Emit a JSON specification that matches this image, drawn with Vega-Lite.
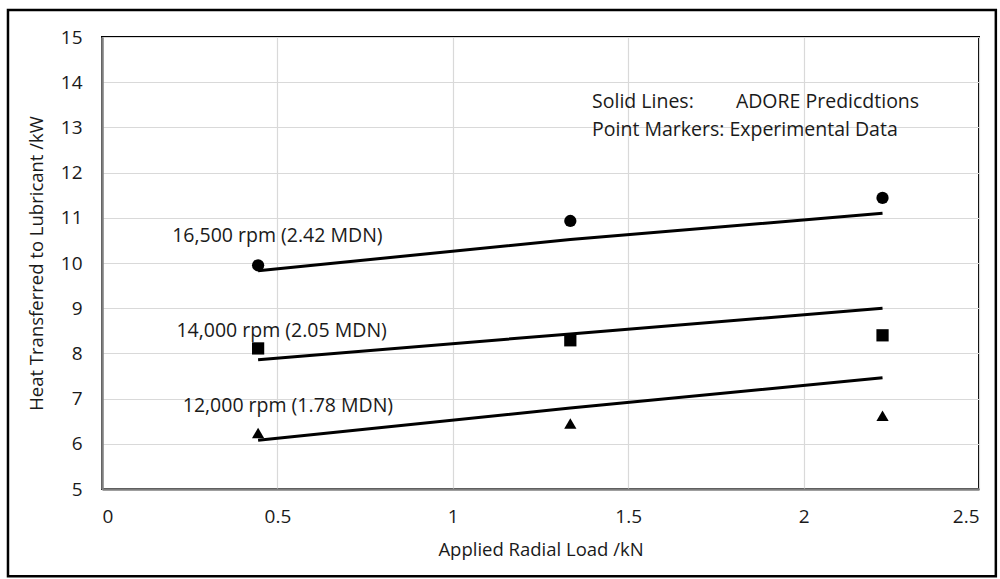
{
  "$schema": "https://vega.github.io/schema/vega-lite/v6.json",
  "width": 877,
  "height": 452,
  "autosize": {"type": "none"},
  "padding": {"left": 102, "top": 37, "right": 21, "bottom": 90},
  "background": "white",
  "config": {
    "font": "Open Sans",
    "view": {"stroke": "#000000", "strokeWidth": 2},
    "axis": {
      "grid": true,
      "gridColor": "#d9d9d9",
      "gridWidth": 1.2,
      "ticks": false,
      "domainColor": "#7f7f7f",
      "domainWidth": 2.5,
      "labelFont": "Open Sans",
      "labelFontSize": 19,
      "labelColor": "#1a1a1a",
      "titleFont": "Open Sans",
      "titleFontSize": 18.5,
      "titleFontWeight": "normal",
      "titleColor": "#1a1a1a"
    }
  },
  "datasets": {
    "measured": [
      {"series": "16,500 rpm", "x": 0.445, "y": 9.95},
      {"series": "16,500 rpm", "x": 1.335, "y": 10.93},
      {"series": "16,500 rpm", "x": 2.225, "y": 11.44},
      {"series": "14,000 rpm", "x": 0.445, "y": 8.11},
      {"series": "14,000 rpm", "x": 1.335, "y": 8.29},
      {"series": "14,000 rpm", "x": 2.225, "y": 8.4},
      {"series": "12,000 rpm", "x": 0.445, "y": 6.24},
      {"series": "12,000 rpm", "x": 1.335, "y": 6.45},
      {"series": "12,000 rpm", "x": 2.225, "y": 6.62}
    ],
    "predicted": [
      {"series": "16,500 rpm", "x": 0.445, "y": 9.83},
      {"series": "16,500 rpm", "x": 1.335, "y": 10.52},
      {"series": "16,500 rpm", "x": 2.225, "y": 11.1},
      {"series": "14,000 rpm", "x": 0.445, "y": 7.86},
      {"series": "14,000 rpm", "x": 1.335, "y": 8.43},
      {"series": "14,000 rpm", "x": 2.225, "y": 9.0},
      {"series": "12,000 rpm", "x": 0.445, "y": 6.08},
      {"series": "12,000 rpm", "x": 1.335, "y": 6.79},
      {"series": "12,000 rpm", "x": 2.225, "y": 7.46}
    ],
    "labels": [
      {"label": "16,500 rpm (2.42 MDN)", "x": 0.5, "y": 10.6},
      {"label": "14,000 rpm (2.05 MDN)", "x": 0.512, "y": 8.5},
      {"label": "12,000 rpm (1.78 MDN)", "x": 0.53, "y": 6.84}
    ],
    "notes": [
      {"label": "Solid Lines:", "x": 1.397, "y": 13.56},
      {"label": "ADORE Predicdtions", "x": 1.807, "y": 13.56},
      {"label": "Point Markers: Experimental  Data", "x": 1.397, "y": 12.95}
    ],
    "frame": [
      {"x0": -0.268, "x1": 2.548, "y0": 3.07, "y1": 15.597}
    ]
  },
  "layer": [
    {
      "data": {"name": "predicted"},
      "mark": {"type": "line", "color": "#000000", "strokeWidth": 3},
      "encoding": {
        "x": {
          "field": "x",
          "type": "quantitative",
          "scale": {"domain": [0, 2.5], "nice": false, "zero": false},
          "axis": {"values": [0, 0.5, 1, 1.5, 2, 2.5], "format": "~g", "labelPadding": 18, "titlePadding": 14},
          "title": "Applied Radial Load /kN"
        },
        "y": {
          "field": "y",
          "type": "quantitative",
          "scale": {"domain": [5, 15], "nice": false, "zero": false},
          "axis": {"values": [5, 6, 7, 8, 9, 10, 11, 12, 13, 14, 15], "labelPadding": 20, "titlePadding": 14},
          "title": "Heat Transferred to Lubricant /kW"
        },
        "detail": {"field": "series", "type": "nominal"},
        "order": {"field": "x", "type": "quantitative"}
      }
    },
    {
      "data": {"name": "measured"},
      "mark": {"type": "point", "filled": true, "color": "#000000", "opacity": 1},
      "encoding": {
        "x": {"field": "x", "type": "quantitative"},
        "y": {"field": "y", "type": "quantitative"},
        "shape": {
          "field": "series",
          "type": "nominal",
          "scale": {"domain": ["16,500 rpm", "14,000 rpm", "12,000 rpm"], "range": ["circle", "square", "triangle-up"]},
          "legend": null
        },
        "size": {
          "field": "series",
          "type": "nominal",
          "scale": {"domain": ["16,500 rpm", "14,000 rpm", "12,000 rpm"], "range": [150, 150, 200]},
          "legend": null
        }
      }
    },
    {
      "data": {"name": "labels"},
      "mark": {"type": "text", "fontSize": 19.5, "font": "Open Sans", "color": "#1a1a1a", "align": "center", "baseline": "middle"},
      "encoding": {
        "x": {"field": "x", "type": "quantitative"},
        "y": {"field": "y", "type": "quantitative"},
        "text": {"field": "label"}
      }
    },
    {
      "data": {"name": "notes"},
      "mark": {"type": "text", "fontSize": 19.5, "font": "Open Sans", "color": "#1a1a1a", "align": "left", "baseline": "middle"},
      "encoding": {
        "x": {"field": "x", "type": "quantitative"},
        "y": {"field": "y", "type": "quantitative"},
        "text": {"field": "label"}
      }
    },
    {
      "data": {"name": "frame"},
      "mark": {"type": "rect", "fill": null, "fillOpacity": 0, "stroke": "#000000", "strokeWidth": 2.5, "clip": false},
      "encoding": {
        "x": {"field": "x0", "type": "quantitative"},
        "x2": {"field": "x1"},
        "y": {"field": "y0", "type": "quantitative"},
        "y2": {"field": "y1"}
      }
    }
  ]
}
